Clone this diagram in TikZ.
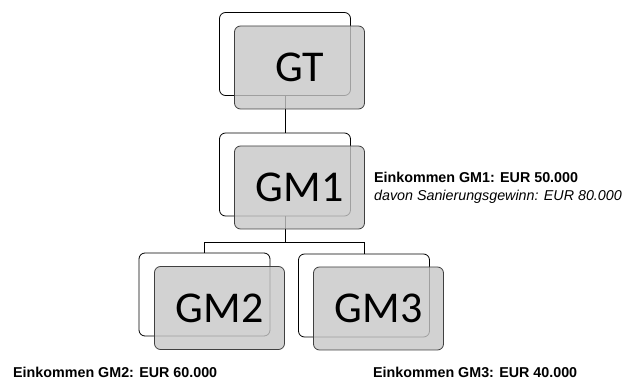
\documentclass[tikz,border=0pt]{standalone}
\usepackage{fontspec}
\setmainfont{Liberation Sans}
\newfontfamily\boxfont{Carlito}
\usepackage{tikz}
\usetikzlibrary{positioning}
\tikzset{
  backbox/.style={draw=black, line width=0.8pt, rounded corners=6pt, fill=white,
    minimum width=131pt, minimum height=83pt, inner sep=0pt},
  frontbox/.style={draw=black!75, line width=0.8pt, rounded corners=6pt,
    fill=black!22, fill opacity=0.8, text opacity=1,
    minimum width=130pt, minimum height=83pt, inner sep=0pt,
    font=\boxfont\fontsize{44}{50}\selectfont},
  info/.style={anchor=west, align=left, inner sep=0pt,
    font=\fontsize{14.3}{18}\selectfont}
}

\begin{document}
\begin{tikzpicture}[x=1pt, y=-1pt]
        \useasboundingbox (0,0) rectangle (622,379);
        % back boxes
        \node[backbox] (gtback) at (285,54) {};
        \node[backbox] (gmeinsback) at (285,174.5) {};
        \node[backbox] (gmzweiback) at (204.5,294.5) {};
        \node[backbox] (gmdreiback) at (364,295.5) {};
        % connectors
        \coordinate (fork) at (285,242);
        \draw[line width=0.8pt] (gtback.south) -- (gmeinsback.north);
        \draw[line width=0.8pt] (gmeinsback.south) -- (fork) -| (gmzweiback.north);
        \draw[line width=0.8pt] (fork) -| (gmdreiback.north);
        % front boxes
        \node[frontbox] (gt) at ([shift={(14.5,13.5)}]gtback) {GT};
        \node[frontbox] (gmeins) at ([shift={(14.5,13)}]gmeinsback) {GM1};
        \node[frontbox] (gmzwei) at ([shift={(15,13.5)}]gmzweiback) {GM2};
        \node[frontbox] (gmdrei) at ([shift={(14.5,13)}]gmdreiback) {GM3};
        % income labels
        \node[info, right=9pt of gmeins] (infoeins)
               {\textbf{Einkommen GM1: EUR 50.000}\\\textit{davon Sanierungsgewinn: EUR 80.000}};
        \node[info] (infozwei) at (13,372) {\textbf{Einkommen GM2: EUR 60.000}};
        \node[info] (infodrei) at (373,372) {\textbf{Einkommen GM3: EUR 40.000}};
\end{tikzpicture}
\end{document}
